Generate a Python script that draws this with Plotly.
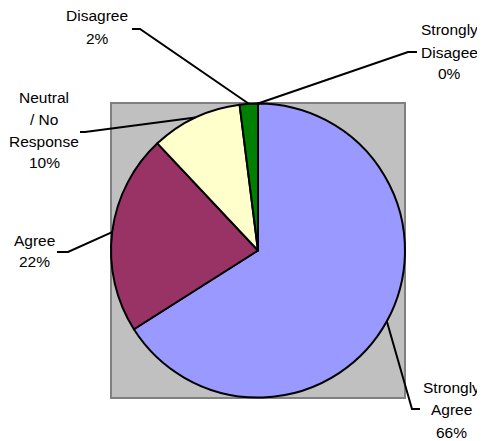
import math
import plotly.graph_objects as go

# ---- data ----
categories = ["Strongly Agree", "Agree", "Neutral / No Response", "Disagree", "Strongly Disagee"]
values = [66, 22, 10, 2, 0]
label_lines = [
    ["Strongly", "Agree", "66%"],
    ["Agree", "22%"],
    ["Neutral", "/ No", "Response", "10%"],
    ["Disagree", "2%"],
    ["Strongly", "Disagee", "0%"],
]
colors = ["#9999FF", "#993366", "#FFFFCC", "#008000", "#00FF00"]

# ---- layout (window pixels) ----
OFF = 8  # page body margin
W, H = 485 - OFF, 441 - OFF
box = (111, 103, 405, 398)  # left, top, right, bottom
cx, cy = (box[0] + box[2]) / 2, (box[1] + box[3]) / 2
R = (box[2] - box[0]) / 2

# label layout: elbow (x,y), end x, text x centre, first line y, line gap
label_layout = [
    dict(elbow=(412, 409), endx=420, tx=451, ty=387, gap=22.5),
    dict(elbow=(68, 252), endx=57, tx=34, ty=240, gap=22),
    dict(elbow=(85, 132), endx=80, tx=44, ty=98, gap=21.5),
    dict(elbow=(140, 29), endx=132, tx=97, ty=16, gap=22.5),
    dict(elbow=(408, 52), endx=417, tx=449, ty=30, gap=22),
]


def px(x):
    return (x - OFF) / W


def py(y):
    return 1 - (y - OFF) / H


fig = go.Figure()
fig.add_trace(go.Pie(
    labels=categories, values=values, sort=False, direction="clockwise",
    rotation=0, marker=dict(colors=colors, line=dict(color="black", width=2)),
    textinfo="none", hoverinfo="label+percent", showlegend=False,
    domain=dict(x=[px(box[0]), px(box[2])], y=[py(box[3]), py(box[1])]),
))

shapes = [dict(type="rect", xref="paper", yref="paper", x0=px(box[0]), x1=px(box[2]),
               y0=py(box[3]), y1=py(box[1]), fillcolor="#C0C0C0",
               line=dict(color="#808080", width=2), layer="below")]
annotations = []
total = sum(values)
cum = 0
for i, v in enumerate(values):
    mid = (cum + v / 2) / total * 2 * math.pi
    cum += v
    sx = cx + R * math.sin(mid)
    sy = cy - R * math.cos(mid)
    lay = label_layout[i]
    ex, ey = lay["elbow"]
    path = f"M {px(sx)},{py(sy)} L {px(ex)},{py(ey)} L {px(lay['endx'])},{py(ey)}"
    shapes.append(dict(type="path", xref="paper", yref="paper", path=path,
                       line=dict(color="black", width=2)))
    for j, t in enumerate(label_lines[i]):
        annotations.append(dict(text=t, x=px(lay["tx"]), y=py(lay["ty"] + j * lay["gap"]),
                                xref="paper", yref="paper", showarrow=False,
                                xanchor="center", yanchor="middle",
                                font=dict(family="Liberation Sans, Arial", size=15.5, color="black")))

fig.update_layout(width=W, height=H, autosize=False, margin=dict(l=0, r=0, t=0, b=0),
                  paper_bgcolor="white", plot_bgcolor="white",
                  shapes=shapes, annotations=annotations)
fig.write_html("out.html")
